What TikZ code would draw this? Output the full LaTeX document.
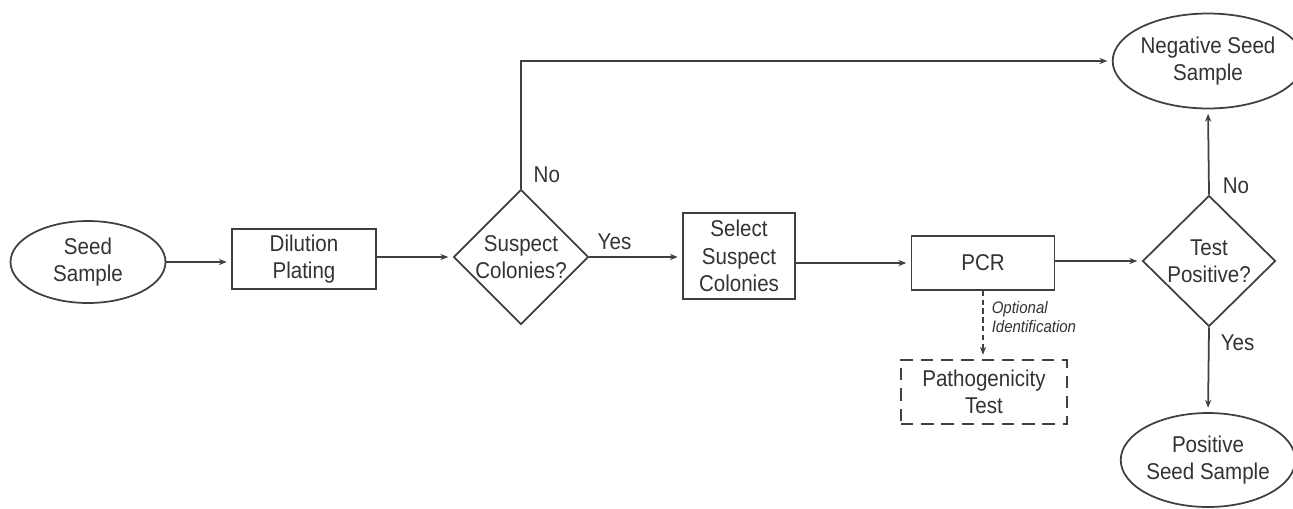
\documentclass[tikz,border=0pt]{standalone}
\usepackage{fontspec}
\setmainfont[FakeStretch=0.9]{Liberation Sans}
\usetikzlibrary{shapes.geometric,arrows.meta}

\tikzset{
  every node/.style={text=black!80, font=\fontsize{13}{15.5}\selectfont, align=center},
  box/.style={draw, rectangle, inner sep=0pt},
  oval/.style={draw, ellipse, inner sep=0pt},
  choice/.style={draw, diamond, inner sep=0pt, aspect=1},
  flow/.style={-{Stealth[length=4.5pt,width=3.5pt]}, shorten >=2.5pt},
  note/.style={font=\fontsize{9.5}{10.5}\selectfont\itshape, align=left},
}

\begin{document}
\begin{tikzpicture}[x=0.02cm, y=-0.02cm, color=black!75, line width=1pt]
\useasboundingbox (0,0) rectangle (1293,508);
% main chain
\node [oval, minimum width=3.1cm, minimum height=1.64cm] (seed) at (88,262) {Seed\\Sample};
\node [box, minimum width=2.88cm, minimum height=1.2cm] (dilution) at (304,259) {Dilution\\Plating};
\node [choice, minimum width=2.62cm, minimum height=2.62cm] (suspect) at (521,257) {Suspect\\Colonies?};
\node [box, minimum width=2.24cm, minimum height=1.72cm] (select) at (739,256) {Select\\Suspect\\Colonies};
\node [box, minimum width=2.86cm, minimum height=1.08cm] (pcr) at (983,263) {PCR};
\node [choice, minimum width=2.66cm, minimum height=2.62cm] (test) at (1209,261) {Test\\Positive?};
% outcomes
\node [oval, minimum width=3.34cm, minimum height=1.9cm] (negative) at (1208,61) {Negative Seed\\Sample};
\node [oval, minimum width=3.3cm, minimum height=1.88cm] (positive) at (1208,460) {Positive\\Seed Sample};
\node [box, dashed, dash pattern=on 7pt off 4.5pt, minimum width=3.32cm, minimum height=1.28cm] (patho) at (984,392) {Pathogenicity\\Test};
% branch labels
\node [anchor=west] (nosuspect) at (527,175) {No};
\node [anchor=west] (yessuspect) at (591,242) {Yes};
\node [anchor=west] (notest) at (1216,186) {No};
\node [anchor=west] (yestest) at (1214,343) {Yes};
\node [note, anchor=west] (optional) at (985,317) {Optional\\Identification};
% connectors
\draw [flow] (seed.east) -- (seed.east -| dilution.west);
\draw [flow] (dilution.east |- suspect.west) -- (suspect.west);
\draw [flow] (suspect.east) -- (suspect.east -| select.west);
\draw [flow] (pcr.west -| select.east) -- (pcr.west);
\draw [flow] (pcr.east |- test.west) -- (test.west);
\draw [flow] (suspect.north) |- (negative.west);
\draw [flow] (test.north) -- (negative.south);
\draw [flow] (test.south) -- (positive.north);
\draw [flow, dashed, dash pattern=on 3pt off 2pt] (pcr.south) -- (pcr.south |- patho.north);
\end{tikzpicture}
\end{document}
